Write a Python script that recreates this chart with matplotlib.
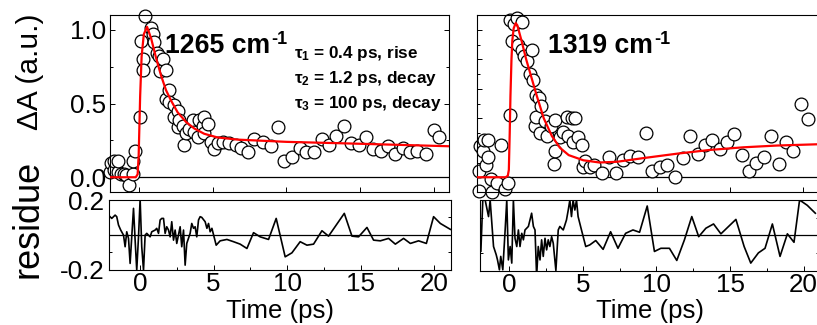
import matplotlib
matplotlib.use("Agg")
import matplotlib.pyplot as plt
from matplotlib.ticker import FixedLocator
from matplotlib.text import Annotation

plt.rcParams['font.family'] = ['Liberation Sans', 'DejaVu Sans']
plt.rcParams['mathtext.fontset'] = 'custom'
plt.rcParams['mathtext.rm'] = 'Liberation Sans'
plt.rcParams['mathtext.bf'] = 'Liberation Sans:bold'
plt.rcParams['mathtext.it'] = 'Liberation Sans:italic'

# ---------------- data: 1265 cm-1 ----------------
t_1265 = [-1.97, -1.93, -1.70, -1.70, -1.47, -1.43, -1.25, -1.02, -0.90, -0.68, -0.45, -0.45, -0.29, 0.07,
          0.11, 0.23, 0.27, 0.39, 0.79, 0.91, 1.02, 1.20, 1.32, 1.43, 1.59, 1.81, 1.81, 2.04, 2.04, 2.38,
          2.38, 2.60, 2.60, 2.72, 2.95, 3.06, 3.17, 3.40, 3.63, 3.74, 3.97, 4.08, 4.30, 4.42, 4.42, 4.65,
          4.88, 5.10, 5.33, 5.67, 6.10, 6.60, 6.90, 7.40, 7.80, 8.40, 8.96, 9.40, 9.86, 10.4, 10.9, 11.3,
          11.9, 12.4, 12.9, 13.4, 13.9, 14.4, 14.9, 15.4, 15.9, 16.4, 16.9, 17.4, 17.9, 18.4, 18.9, 19.5,
          20.0, 20.4]
v_1265 = [0.034, 0.10, 0.046, 0.11, 0.034, 0.11, 0.023, 0.023, 0.012, -0.05, 0.023, 0.11, 0.18, 0.41,
          0.925, 0.80, 0.73, 1.09, 1.01, 0.97, 0.92, 0.84, 0.82, 0.72, 0.80, 0.73, 0.53, 0.59, 0.51, 0.49,
          0.41, 0.45, 0.34, 0.39, 0.35, 0.22, 0.30, 0.33, 0.39, 0.31, 0.27, 0.39, 0.35, 0.41, 0.30, 0.36,
          0.24, 0.19, 0.23, 0.24, 0.23, 0.22, 0.20, 0.17, 0.26, 0.24, 0.21, 0.34, 0.11, 0.14, 0.20, 0.17,
          0.17, 0.26, 0.22, 0.28, 0.35, 0.23, 0.22, 0.27, 0.19, 0.18, 0.21, 0.16, 0.20, 0.17, 0.18, 0.16,
          0.32, 0.27]
fit_t_1265 = [-2.0, -0.25, -0.12, -0.05, 0.0, 0.05, 0.15, 0.30, 0.52, 0.80, 1.13, 1.47, 1.81, 2.15, 2.60,
              3.17, 3.74, 4.40, 5.30, 6.70, 10.0, 15.0, 21.1]
fit_v_1265 = [0.0, 0.0, 0.02, 0.15, 0.35, 0.55, 0.82, 0.97, 1.02, 0.94, 0.81, 0.69, 0.59, 0.52, 0.44,
              0.375, 0.33, 0.295, 0.27, 0.255, 0.24, 0.227, 0.21]
res_t_1265 = [-2.15, -1.93, -1.70, -1.59, -1.47, -1.32, -1.13, -1.02, -0.91, -0.79, -0.68, -0.57, -0.45,
              -0.34, -0.23, -0.11, 0.0, 0.11, 0.23, 0.34, 0.45, 0.68, 0.79, 1.02, 1.13, 1.25, 1.36, 1.47,
              1.59, 1.70, 1.81, 1.93, 2.04, 2.15, 2.27, 2.38, 2.49, 2.72, 2.83, 2.95, 3.06, 3.17, 3.40,
              3.51, 3.63, 3.74, 3.85, 3.97, 4.08, 4.19, 4.42, 4.54, 4.65, 4.76, 4.88, 5.17, 5.44, 5.90,
              6.35, 6.80, 7.26, 7.71, 8.16, 8.73, 9.25, 9.86, 10.32, 10.88, 11.34, 11.79, 12.36, 12.81,
              13.88, 14.40, 14.85, 15.42, 15.87, 16.33, 16.89, 17.35, 17.91, 18.37, 18.93, 19.46, 19.95,
              20.41, 21.09]
res_v_1265 = [0.113, 0.094, 0.113, 0.104, 0.056, 0.027, -0.002, -0.069, 0.017, -0.021, -0.165, -0.012,
              0.152, -0.031, -0.204, -0.012, 0.204, -0.069, -0.204, -0.002, 0.008, -0.012, 0.017, 0.027,
              0.037, 0.008, 0.085, 0.094, 0.094, 0.008, 0.046, 0.027, -0.012, 0.075, -0.031, 0.027,
              -0.05, 0.046, -0.069, 0.027, -0.175, -0.05, 0.008, 0.065, 0.037, 0.046, -0.012, 0.085,
              0.104, 0.10, 0.075, 0.037, 0.065, 0.017, 0.037, -0.06, -0.035, -0.027, -0.04, -0.054,
              -0.079, 0.012, -0.012, -0.027, 0.094, -0.127, -0.104, -0.04, -0.06, -0.054, 0.023, -0.008,
              0.123, -0.008, -0.012, 0.042, -0.031, -0.035, -0.021, -0.054, -0.021, -0.05, -0.035, -0.05,
              0.104, 0.065, 0.031]

# ---------------- data: 1319 cm-1 ----------------
t_1319 = [-2.10, -2.10, -2.05, -1.86, -1.80, -1.64, -1.52, -1.48, -1.32, -1.25, -0.90, -0.64, -0.34,
          -0.11, 0.0, 0.0, 0.16, 0.30, 0.45, 0.52, 0.80, 0.80, 0.98, 1.14, 1.36, 1.48, 1.60, 1.70, 1.75,
          1.77, 2.00, 2.05, 2.11, 2.39, 2.50, 2.80, 3.00, 3.07, 3.07, 3.40, 3.64, 3.86, 3.98, 4.20, 4.30,
          4.43, 4.66, 4.89, 5.00, 5.10, 5.45, 5.75, 6.25, 6.77, 7.20, 7.70, 8.20, 8.75, 9.27, 9.70,
          10.2, 10.7, 11.25, 11.8, 12.3, 12.8, 13.3, 13.8, 14.3, 14.8, 15.3, 15.8, 16.3, 16.8, 17.3,
          17.8, 18.3, 18.8, 19.3, 19.8, 20.3]
v_1319 = [-0.09, 0.04, 0.21, 0.18, 0.25, 0.08, 0.25, 0.14, -0.01, -0.10, -0.04, 0.22, -0.08,
          -0.04, 0.42, 1.066, 0.925, 1.04, 1.08, 0.90, 1.05, 0.86, 0.82, 0.79, 0.70, 0.86, 0.66, 0.345,
          0.41, 0.56, 0.54, 0.30, 0.48, 0.38, 0.28, 0.345, 0.09, 0.39, 0.175, 0.27, 0.31, 0.41, 0.28,
          0.40, 0.24, 0.40, 0.27, 0.22, 0.07, 0.11, 0.07, 0.08, 0.03, 0.14, 0.03, 0.12, 0.145, 0.14,
          0.30, 0.04, 0.07, 0.08, 0.0, 0.13, 0.28, 0.16, 0.22, 0.25, 0.19, 0.24, 0.295, 0.15, 0.04,
          0.10, 0.14, 0.28, 0.09, 0.24, 0.18, 0.50, 0.395]
fit_t_1319 = [-2.25, -0.30, -0.15, -0.08, -0.02, 0.03, 0.10, 0.16, 0.25, 0.39, 0.50, 0.80, 1.10, 1.48,
              1.80, 2.30, 2.85, 3.40, 4.00, 5.00, 6.10, 7.30, 9.10, 11.4, 13.6, 15.9, 18.2, 21.1]
fit_v_1319 = [0.0, 0.0, 0.01, 0.05, 0.30, 0.55, 0.80, 0.93, 1.01, 1.045, 1.03, 0.92, 0.80, 0.67,
              0.56, 0.40, 0.28, 0.20, 0.15, 0.115, 0.10, 0.105, 0.13, 0.16, 0.185, 0.203, 0.215, 0.224]
res_t_1319 = [-1.94, -1.81, -1.65, -1.42, -1.31, -1.08, -0.90, -0.81, -0.68, -0.59, -0.45, -0.29,
              -0.18, -0.07, 0.05, 0.16, 0.27, 0.38, 0.50, 0.61, 0.72, 0.84, 0.95, 1.06, 1.29, 1.40,
              1.51, 1.63, 1.74, 1.85, 1.96, 2.08, 2.19, 2.30, 2.42, 2.53, 2.64, 2.75, 2.87, 2.98, 3.16,
              3.32, 3.43, 3.54, 3.66, 3.77, 3.88, 4.00, 4.11, 4.22, 4.33, 4.45, 4.56, 4.67, 4.90, 5.19,
              5.46, 5.87, 6.37, 6.88, 7.38, 7.90, 8.40, 8.85, 9.37, 9.86, 10.3, 10.88, 11.38, 11.9,
              12.4, 12.87, 13.36, 13.88, 14.38, 15.4, 15.96, 16.41, 16.93, 17.38, 17.88, 18.4, 18.9,
              19.35, 19.73, 20.25, 20.8]
res_v_1319 = [-0.09, 0.2, 0.2, 0.106, 0.2, -0.064, -0.11, -0.14, -0.196, -0.12, -0.196, 0.03,
              0.2, -0.14, -0.064, -0.158, 0.2, -0.017, -0.064, 0.03, -0.064, 0.011, -0.026, 0.03, 0.05,
              0.087, 0.125, 0.05, 0.03, -0.234, -0.064, -0.14, -0.026, -0.12, -0.017, -0.083, -0.026,
              -0.064, -0.008, -0.045, -0.2, 0.03, 0.05, 0.04, 0.03, 0.058, 0.087, 0.143, 0.2, 0.106,
              0.2, 0.143, 0.2, 0.106, 0.03, -0.064, -0.055, -0.03, -0.08, 0.02, -0.074, 0.011, 0.03,
              0.017, 0.166, -0.092, -0.074, -0.074, -0.143, -0.026, 0.106, -0.008, 0.04, 0.064, 0.008,
              0.09, -0.064, -0.158, -0.10, -0.074, 0.064, -0.12, 0.008, -0.04, 0.2, 0.17, 0.125]

x_major = [0, 5, 10, 15, 20]
x_labels = ['0', '5', '10', '15', '20']
x_minor = [2.5, 7.5, 12.5, 17.5]

W, H = 817, 325
fig = plt.figure(figsize=(W / 100, H / 100), dpi=100)


def add_ax(x0, x1, y0, y1):
    return fig.add_axes([x0 / W, 1 - y1 / H, (x1 - x0) / W, (y1 - y0) / H])


ax_tl = add_ax(110, 449, 15, 192)
ax_tr = add_ax(477, 819, 15, 192)
ax_bl = add_ax(108.5, 450.5, 200, 269.5)
ax_br = add_ax(480, 819, 200, 270.5)

for ax in (ax_tl, ax_tr, ax_bl, ax_br):
    for s in ax.spines.values():
        s.set_linewidth(0.8)
    ax.tick_params(which='both', direction='in', width=0.7, labelsize=18.7, pad=3)
    ax.tick_params(which='major', length=3.5)
    ax.tick_params(which='minor', length=2.5)

# top panels
for ax, t, v, ft, fv, xl in ((ax_tl, t_1265, v_1265, fit_t_1265, fit_v_1265, (-2.0, 21.05)),
                             (ax_tr, t_1319, v_1319, fit_t_1319, fit_v_1319, (-2.25, 21.06))):
    ax.axhline(0, color='black', lw=0.9, zorder=1)
    ax.plot(t, v, 'o', ms=9.2, mfc='white', mec='black', mew=0.9, ls='none', clip_on=False, zorder=2)
    ax.plot(ft, fv, color='#ff0000', lw=1.6, zorder=3)
    ax.set_xlim(*xl)
    ax.set_ylim(-0.1, 1.1)
    ax.xaxis.set_major_locator(FixedLocator(x_major))
    ax.tick_params(axis='x', labelbottom=False, top=False)

ax_tl.set_yticks([0.0, 0.5, 1.0])
ax_tl.set_yticklabels(['0.0', '0.5', '1.0'])
ax_tl.yaxis.set_minor_locator(FixedLocator([0.25, 0.75]))
ax_tl.tick_params(axis='y', which='both', left=True, right=True)

ax_tr.set_yticks([0.0, 0.2, 0.4, 0.6, 0.8, 1.0])
ax_tr.yaxis.set_minor_locator(FixedLocator([0.1, 0.3, 0.5, 0.7, 0.9]))
ax_tr.tick_params(axis='y', which='both', left=True, right=False, labelleft=False)

# residue panels
for ax, t, r, xl in ((ax_bl, res_t_1265, res_v_1265, (-2.15, 21.1)),
                     (ax_br, res_t_1319, res_v_1319, (-2.0, 21.05))):
    ax.axhline(0, color='black', lw=0.9, zorder=1)
    ax.plot(t, r, color='black', lw=1.2, zorder=2)
    ax.set_xlim(*xl)
    ax.set_ylim(-0.2, 0.2)
    ax.xaxis.set_major_locator(FixedLocator(x_major))
    ax.set_xticklabels(x_labels)
    ax.xaxis.set_minor_locator(FixedLocator(x_minor))
    ax.tick_params(axis='x', which='both', top=False, pad=2)
    ax.set_yticks([-0.2, 0.2])
    ax.yaxis.set_minor_locator(FixedLocator([-0.1, 0.1]))
    ax.tick_params(axis='y', which='both', left=True, right=True)

ax_bl.set_yticklabels(['-0.2', '0.2'])
ax_br.tick_params(axis='y', labelleft=False)

# wavenumber labels with hyphen superscript
for x0, lab in ((165, '1265 cm'), (548, '1319 cm')):
    tt = fig.text(x0 / W, 1 - 53 / H, lab, fontsize=19.2, fontweight='bold', va='baseline', ha='left')
    sup = Annotation('-1', xy=(1, 0), xycoords=tt, xytext=(1, 10.5), textcoords='offset points',
                     fontsize=13, fontweight='bold', va='baseline', ha='left', annotation_clip=False)
    fig.add_artist(sup)

tau_lines = ['τ$_\\mathbf{1}$ = 0.4 ps, rise', 'τ$_\\mathbf{2}$ = 1.2 ps, decay', 'τ$_\\mathbf{3}$ = 100 ps, decay']
for i, s in enumerate(tau_lines):
    fig.text(294 / W, 1 - (58 + 25 * i) / H, s, fontsize=12.3, fontweight='bold',
             va='baseline', ha='left')

fig.text(280 / W, 1 - 318 / H, 'Time (ps)', fontsize=18.5, ha='center', va='baseline')
fig.text(650 / W, 1 - 318 / H, 'Time (ps)', fontsize=18.5, ha='center', va='baseline')

fig.text(38.5 / W, 1 - 72 / H, 'ΔA (a.u.)', fontsize=21.5, rotation=90, rotation_mode='anchor',
         ha='center', va='baseline')
fig.text(37 / W, 1 - 219 / H, 'residue', fontsize=26, rotation=90, rotation_mode='anchor',
         ha='center', va='baseline')

fig.savefig('out.png', dpi=100)
